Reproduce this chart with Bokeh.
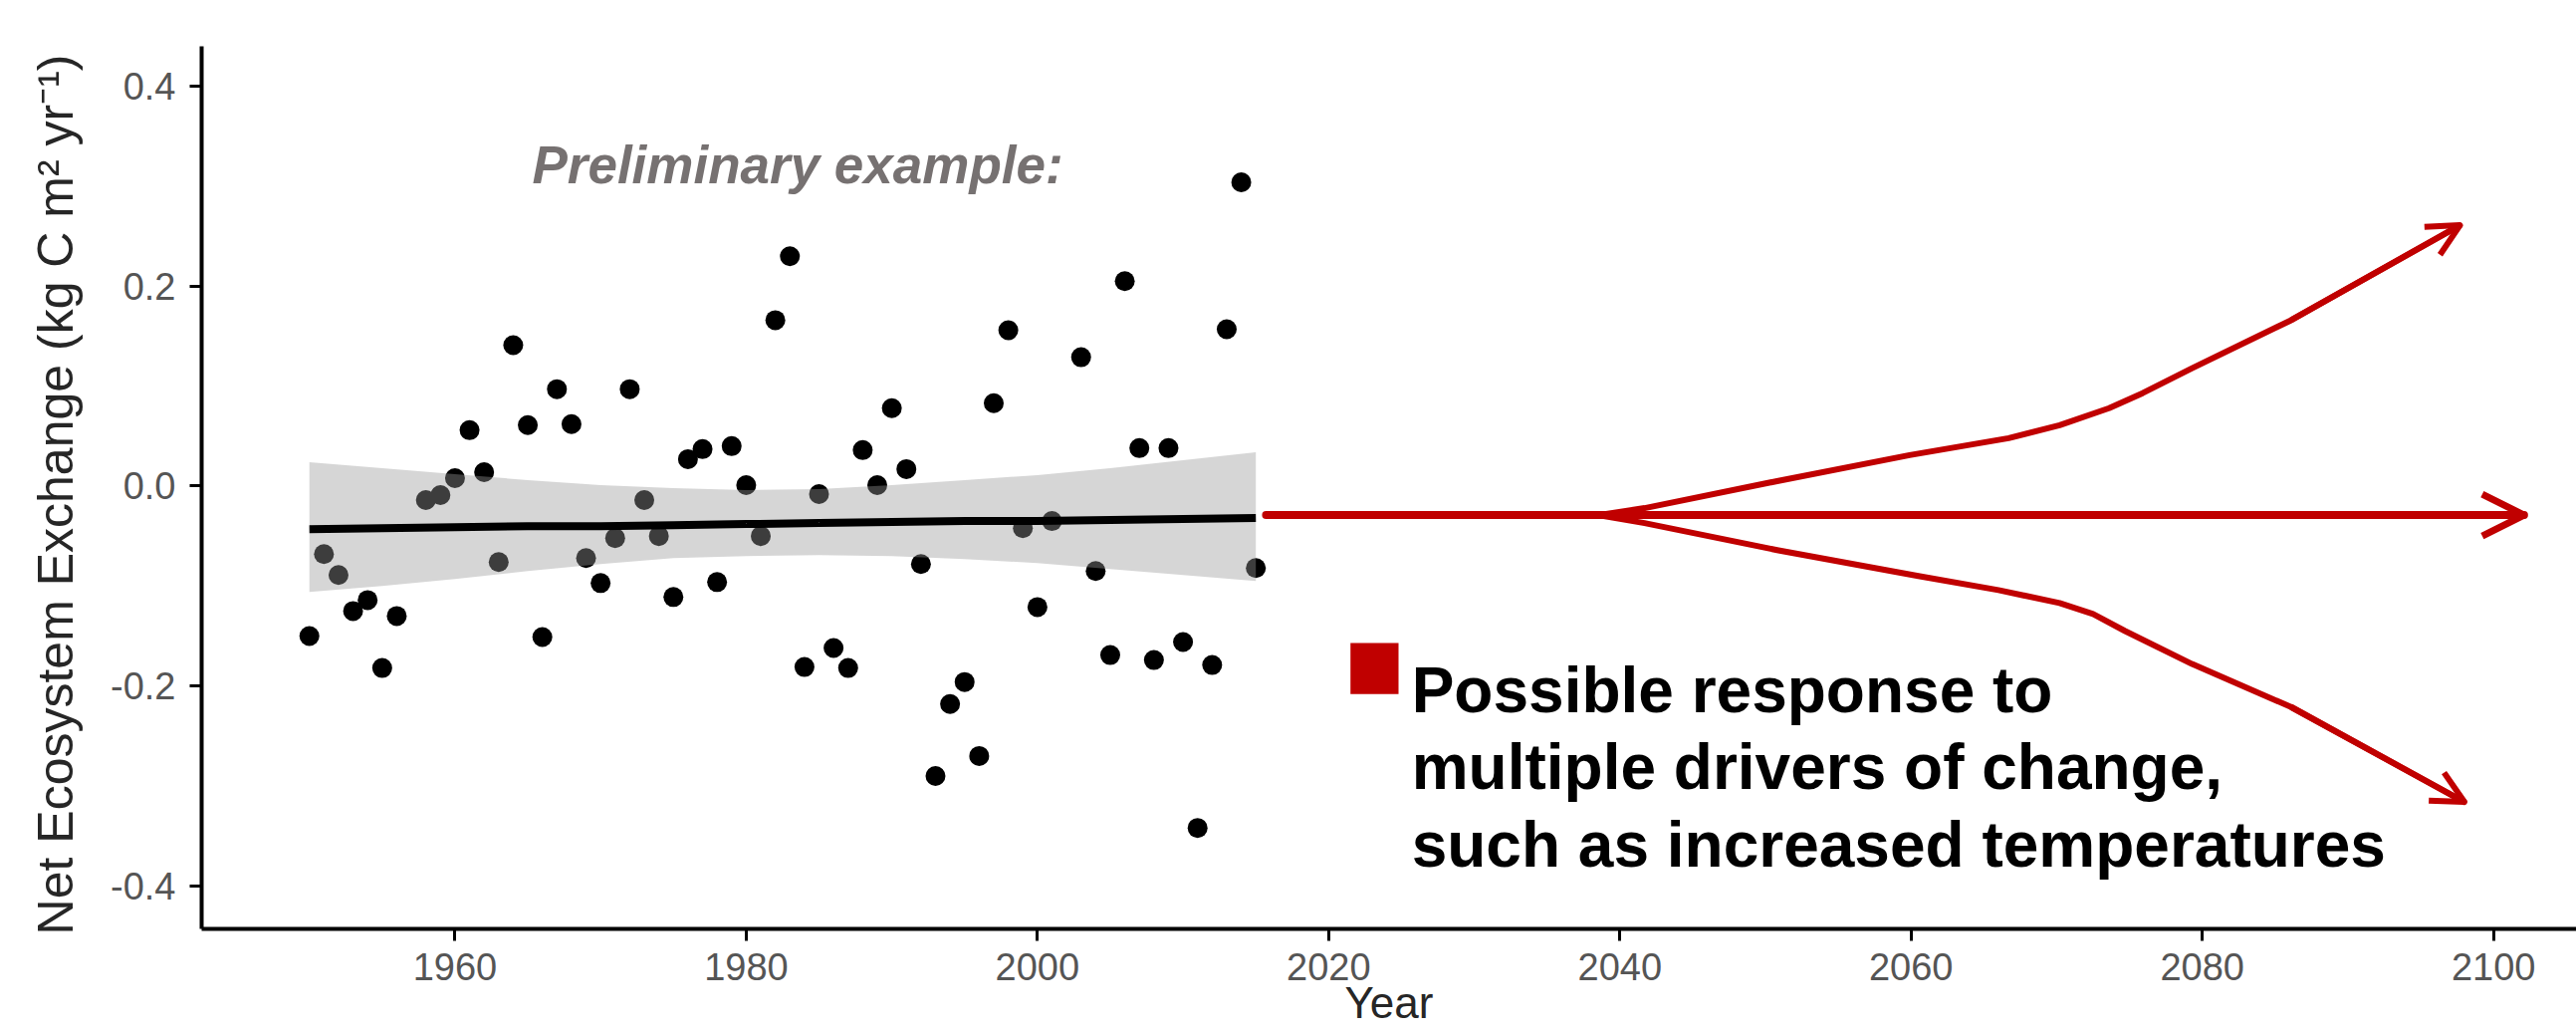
from bokeh.plotting import figure
from bokeh.models import Range1d, FixedTicker, PrintfTickFormatter, Arrow, OpenHead, Label, ColumnDataSource
from bokeh.embed import file_html
from bokeh.resources import INLINE

# ---- observed annual Net Ecosystem Exchange ----
years = [1950, 1951, 1952, 1953, 1954, 1955, 1956, 1958, 1959, 1960,
         1961, 1962, 1963, 1964, 1965, 1966, 1967, 1968, 1969, 1970,
         1971, 1972, 1973, 1974, 1975, 1976, 1977, 1978, 1979, 1980,
         1981, 1982, 1983, 1984, 1985, 1986, 1987, 1988, 1989, 1990,
         1991, 1992, 1993, 1994, 1995, 1996, 1997, 1998, 1999, 2000,
         2001, 2003, 2004, 2005, 2006, 2007, 2008, 2009, 2010, 2011,
         2012, 2013, 2014, 2015]
nee = [-0.150, -0.068, -0.089, -0.125, -0.114, -0.182, -0.130, -0.014, -0.009, 0.008,
       0.056, 0.014, -0.076, 0.141, 0.061, -0.151, 0.097, 0.062, -0.072, -0.097,
       -0.052, 0.097, -0.014, -0.050, -0.111, 0.027, 0.037, -0.096, 0.040, 0.001,
       -0.050, 0.166, 0.230, -0.181, -0.008, -0.162, -0.182, 0.036, 0.001, 0.078,
       0.017, -0.078, -0.290, -0.218, -0.196, -0.270, 0.083, 0.156, -0.042, -0.121,
       -0.035, 0.129, -0.085, -0.169, 0.205, 0.038, -0.174, 0.038, -0.156, -0.342,
       -0.179, 0.157, 0.304, -0.082]

# ---- linear trend and its confidence band ----
fit_years = [1950, 1955, 1960, 1965, 1970, 1975, 1980, 1985, 1990, 1995, 2000, 2005, 2010, 2015]
fit_mid = [-0.043, -0.042, -0.041, -0.040, -0.040, -0.039, -0.038, -0.037, -0.036, -0.035, -0.035, -0.034, -0.033, -0.032]
fit_upper = [0.024, 0.018, 0.012, 0.006, 0.001, -0.002, -0.004, -0.003, 0.001, 0.006, 0.011, 0.018, 0.026, 0.034]
fit_lower = [-0.106, -0.100, -0.093, -0.085, -0.078, -0.072, -0.070, -0.069, -0.070, -0.073, -0.077, -0.083, -0.089, -0.095]

# ---- hypothetical future trajectories ----
flat_years = [2015.7, 2102.1]
flat_vals = [-0.029, -0.029]
up_years = [2038.5, 2041.7, 2050.8, 2059.9, 2066.7, 2070.2, 2073.6, 2075.9, 2079.3, 2086.1, 2097.7]
up_vals = [-0.029, -0.022, 0.005, 0.031, 0.048, 0.061, 0.078, 0.093, 0.118, 0.166, 0.261]
down_years = [2038.5, 2041.7, 2050.8, 2060.5, 2066.0, 2070.2, 2072.5, 2074.7, 2079.3, 2086.1, 2098.0]
down_vals = [-0.029, -0.037, -0.064, -0.090, -0.104, -0.117, -0.128, -0.145, -0.178, -0.221, -0.316]

x_ticks = [1960, 1980, 2000, 2020, 2040, 2060, 2080, 2100]
y_ticks = [-0.4, -0.2, 0.0, 0.2, 0.4]

RED = "#C00000"
FONT = "Liberation Sans"

p = figure(width=2587, height=1037, output_backend="svg", toolbar_location=None,
           x_range=Range1d(1942.6, 2105.7), y_range=Range1d(-0.443, 0.440),
           min_border_left=202, min_border_right=0, min_border_top=46, min_border_bottom=105)
p.outline_line_color = None
p.background_fill_color = "white"
p.border_fill_color = "white"
p.xgrid.visible = False
p.ygrid.visible = False

for ax in (p.xaxis[0], p.yaxis[0]):
    ax.axis_line_color = "black"
    ax.axis_line_width = 4
    ax.major_tick_line_color = "black"
    ax.major_tick_line_width = 3
    ax.major_tick_out = 12
    ax.major_tick_in = 0
    ax.minor_tick_line_color = None
    ax.major_label_text_font = FONT
    ax.major_label_text_font_size = "38px"
    ax.major_label_text_color = "#555555"
    ax.axis_label_text_font = FONT
    ax.axis_label_text_font_style = "normal"
    ax.axis_label_text_color = "#262626"

p.xaxis.ticker = FixedTicker(ticks=x_ticks)
p.yaxis.ticker = FixedTicker(ticks=y_ticks)
p.yaxis.formatter = PrintfTickFormatter(format="%.1f")
p.xaxis.major_label_standoff = 12
p.yaxis.major_label_standoff = 14

p.yaxis.axis_label = "Net Ecosystem Exchange (kg C  m² yr⁻¹)"
p.yaxis.axis_label_text_font_size = "50px"
p.yaxis.axis_label_standoff = 24

p.xaxis.axis_label = "Year"
p.xaxis.axis_label_text_font_size = "44px"
p.xaxis.axis_label_standoff = -5

# points
p.scatter(years, nee, size=20, color="black", line_color=None)

# confidence band over points (ggplot-style translucent ribbon)
band = ColumnDataSource(dict(x=fit_years, lo=fit_lower, hi=fit_upper, mid=fit_mid))
p.varea(x="x", y1="lo", y2="hi", source=band, fill_color="#999999", fill_alpha=0.4)
p.line(x="x", y="mid", source=band, line_color="black", line_width=8)

# future arrows
p.line(flat_years, flat_vals, line_color=RED, line_width=8, line_cap="round")
p.line(up_years, up_vals, line_color=RED, line_width=6, line_join="round", line_cap="round")
p.line(down_years, down_vals, line_color=RED, line_width=6, line_join="round", line_cap="round")

p.add_layout(Arrow(end=OpenHead(size=42, line_color=RED, line_width=7),
                   x_start=flat_years[0], y_start=flat_vals[0],
                   x_end=flat_years[-1], y_end=flat_vals[-1],
                   line_color=RED, line_width=8))
p.add_layout(Arrow(end=OpenHead(size=32, line_color=RED, line_width=6),
                   x_start=up_years[-2], y_start=up_vals[-2],
                   x_end=up_years[-1], y_end=up_vals[-1],
                   line_color=RED, line_width=6))
p.add_layout(Arrow(end=OpenHead(size=32, line_color=RED, line_width=6),
                   x_start=down_years[-2], y_start=down_vals[-2],
                   x_end=down_years[-1], y_end=down_vals[-1],
                   line_color=RED, line_width=6))

# legend-like annotation
p.quad(left=[2021.5], right=[2024.8], top=[-0.157], bottom=[-0.208], fill_color=RED, line_color=None)
legend_lines = ["Possible response to", "multiple drivers of change,", "such as increased temperatures"]
legend_y = [-0.204, -0.281, -0.359]
for txt, yy in zip(legend_lines, legend_y):
    p.add_layout(Label(x=2025.7, y=yy, text=txt, text_font=FONT, text_font_size="64px",
                       text_font_style="bold", text_color="black", text_baseline="alphabetic"))

p.add_layout(Label(x=1965.3, y=0.321, text="Preliminary example:", text_font=FONT,
                   text_font_size="53px", text_font_style="bold italic", text_color="#767171",
                   text_baseline="alphabetic"))

open("out.html", "w").write(file_html(p, INLINE))
